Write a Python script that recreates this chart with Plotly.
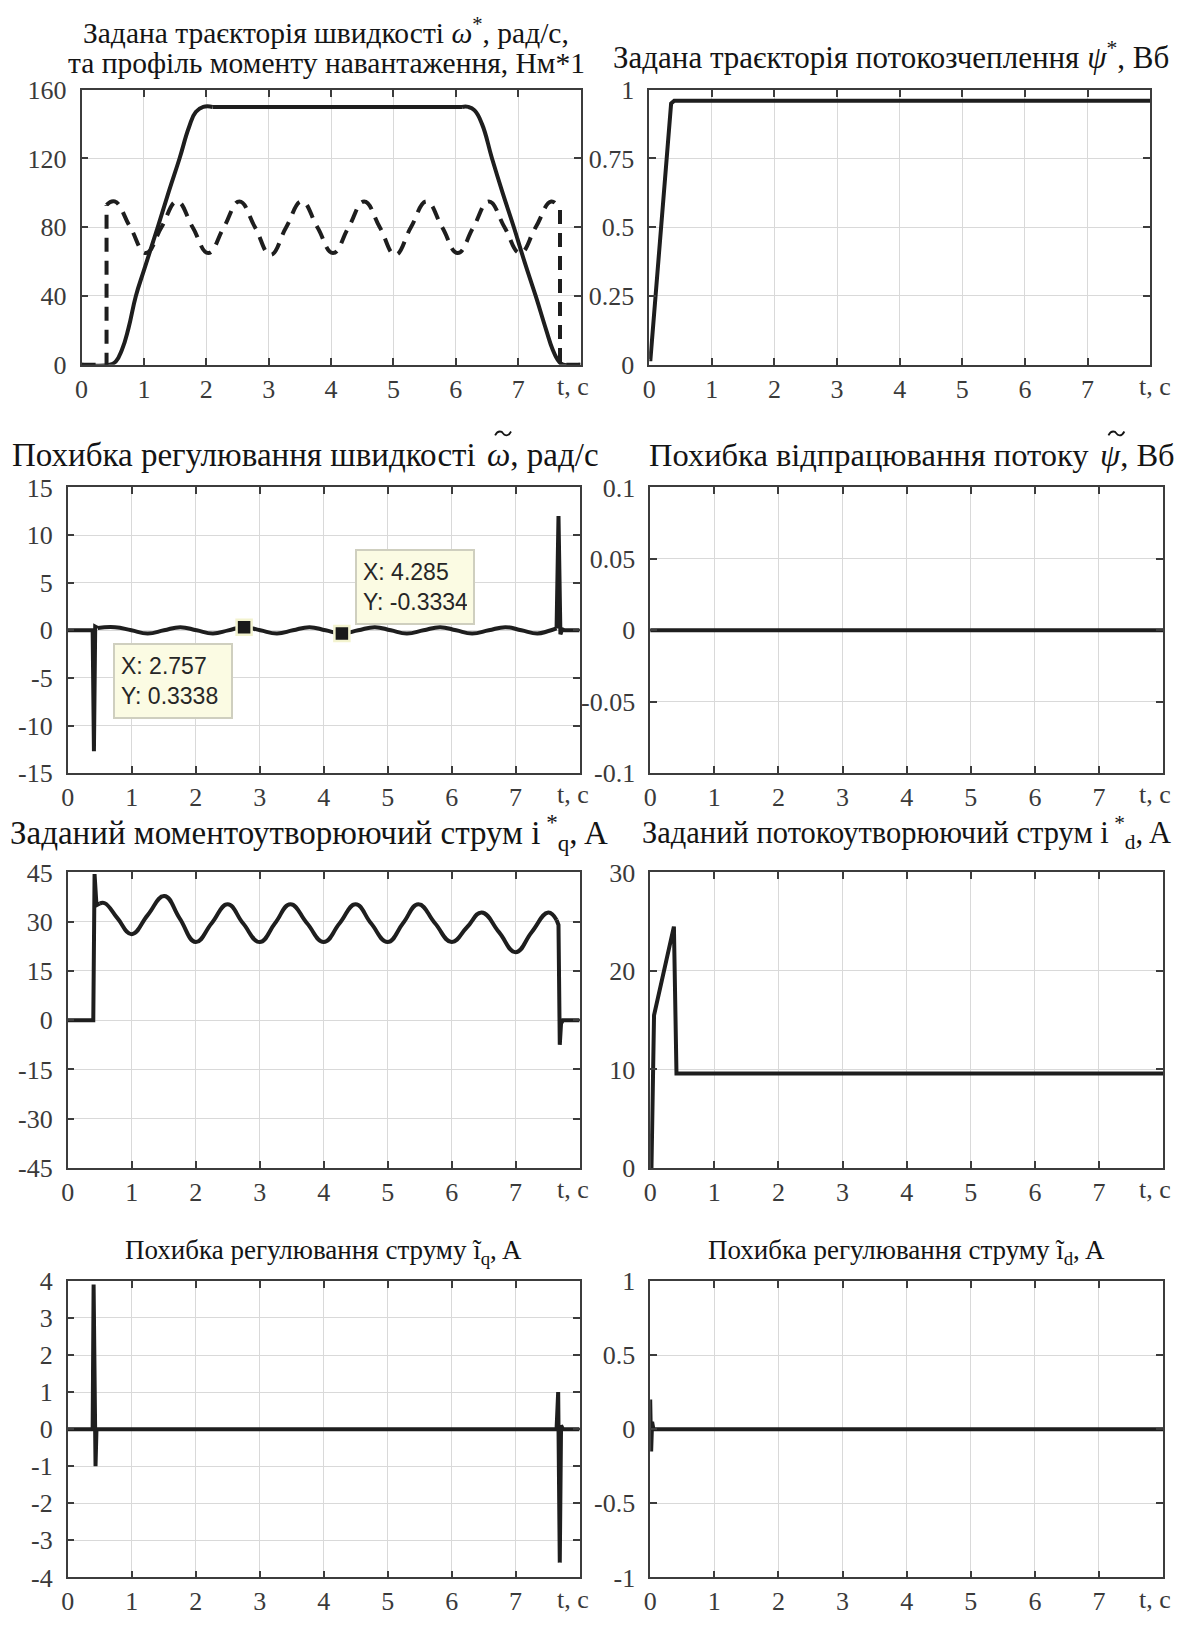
import plotly.graph_objects as go

# page is 1189x1625; the html body keeps an 8px margin, so the figure is drawn 16px smaller
PAGE_OFF = 8
W, H = 1189 - 2 * PAGE_OFF, 1625 - 2 * PAGE_OFF

# ---------------- data ----------------
# Panel 1: speed reference (solid) and load torque profile (dashed)
spd_acc_t = [0, 0.45, 0.55, 0.65, 0.75, 0.87, 1.0, 1.22, 1.4, 1.57, 1.72, 1.83, 1.95, 2.1]
spd_acc_v = [0, 0, 2, 9, 21, 40, 55, 80, 101, 120, 138, 147, 150, 150]
spd_flat_t = [2.1, 6.1]
spd_flat_v = [150, 150]
spd_dec_t = [6.1, 6.2, 6.3, 6.42, 6.58, 6.75, 6.93, 7.1, 7.28, 7.45, 7.55, 7.65, 7.72, 8.0]
spd_dec_v = [150, 150, 148, 140, 120, 100, 80, 60, 40, 20, 9, 2, 0, 0]
load_on_t = [0, 0.40, 0.40]
load_on_v = [0, 0, 93]
load_wave_t = [0.40, 0.53, 0.78, 1.03, 1.28, 1.53, 1.78, 2.03, 2.28, 2.53, 2.78, 3.03, 3.28,
               3.53, 3.78, 4.03, 4.28, 4.53, 4.78, 5.03, 5.28, 5.53, 5.78, 6.03, 6.28, 6.53,
               6.78, 7.03, 7.28, 7.53, 7.67]
load_wave_v = [93, 95, 80, 65, 80, 95, 80, 65, 80, 95, 80, 64, 80,
               95, 80, 65, 80, 95, 80, 64, 80, 95, 80, 65, 80, 95,
               80, 65, 80, 95, 90]
load_off_t = [7.67, 7.67, 8.0]
load_off_v = [90, 0, 0]

# Panel 2: flux linkage reference
flux_t = [0, 0.02, 0.35, 0.40, 8.0]
flux_v = [0.02, 0.02, 0.95, 0.96, 0.96]

# Panel 3: speed tracking error
werr_a_t = [0, 0.39, 0.41, 0.43, 0.47]
werr_a_v = [0, 0, -12.7, 0.4, 0.25]
werr_w_t = [0.47, 0.74, 0.995, 1.25, 1.505, 1.76, 2.015, 2.27, 2.51, 2.757, 3.01, 3.27,
            3.52, 3.78, 4.03, 4.285, 4.54, 4.80, 5.05, 5.30, 5.56, 5.82, 6.07, 6.32,
            6.58, 6.84, 7.09, 7.34, 7.5, 7.64]
werr_w_v = [0.25, 0.33, 0, -0.33, 0, 0.33, 0, -0.33, 0, 0.3338, 0, -0.33,
            0, 0.33, 0, -0.3334, 0, 0.33, 0, -0.33, 0, 0.33, 0, -0.33,
            0, 0.33, 0, -0.33, -0.1, 0.2]
werr_b_t = [7.64, 7.67, 7.70, 7.73, 7.77, 8.0]
werr_b_v = [0.2, 12.0, -0.4, 0.1, 0, 0]
tip_x = [2.757, 4.285]
tip_y = [0.3338, -0.3334]

# Panel 4: flux tracking error
ferr_t = [0, 8.0]
ferr_v = [0, 0]

# Panel 5: torque-producing current reference
iq_a_t = [0, 0.40, 0.42, 0.45, 0.50]
iq_a_v = [0, 0, 44.5, 35, 35.5]
iq_w_t = [0.50, 0.58, 0.78, 1.0, 1.25, 1.51, 1.75, 2.0, 2.25, 2.5, 2.74, 3.0, 3.24, 3.48,
          3.74, 4.0, 4.25, 4.5, 4.74, 5.0, 5.24, 5.48, 5.74, 6.0, 6.24, 6.47, 6.74, 7.0,
          7.25, 7.51, 7.64]
iq_w_v = [35.5, 35.6, 31, 26.2, 32, 37.8, 31, 23.8, 29.5, 35.3, 29.5, 23.8, 29.5, 35.3,
          29.5, 23.8, 29.5, 35.3, 29.5, 23.8, 29.5, 35.3, 29.5, 23.8, 28.3, 32.8, 26.8, 20.7,
          26.8, 32.8, 30.5]
iq_b_t = [7.64, 7.67, 7.69, 7.71, 7.74, 8.0]
iq_b_v = [30.5, 29, -7.5, -1, 0, 0]

# Panel 6: flux-producing current reference
id_t = [0, 0.02, 0.06, 0.37, 0.41, 8.0]
id_v = [0, 0, 15.5, 24.5, 9.6, 9.6]

# Panel 7: iq tracking error
iqerr_t = [0, 0.39, 0.405, 0.42, 0.435, 0.45, 7.64, 7.665, 7.69, 7.71, 7.74, 8.0]
iqerr_v = [0, 0, 3.9, 0.3, -1.0, 0, 0, 1.0, -3.6, 0.1, 0, 0]

# Panel 8: id tracking error
iderr_t = [0, 0.015, 0.03, 0.05, 8.0]
iderr_v = [0.2, -0.15, 0.05, 0, 0]

# axes / ticks
x_ticks = [0, 1, 2, 3, 4, 5, 6, 7]
x_tick_text = ["0", "1", "2", "3", "4", "5", "6", "7"]
x_unit = "t, c"
y_ticks = {
    1: [0, 40, 80, 120, 160],
    2: [0, 0.25, 0.5, 0.75, 1],
    3: [-15, -10, -5, 0, 5, 10, 15],
    4: [-0.1, -0.05, 0, 0.05, 0.1],
    5: [-45, -30, -15, 0, 15, 30, 45],
    6: [0, 10, 20, 30],
    7: [-4, -3, -2, -1, 0, 1, 2, 3, 4],
    8: [-1, -0.5, 0, 0.5, 1],
}
y_tick_text = {
    1: ["0", "40", "80", "120", "160"],
    2: ["0", "0.25", "0.5", "0.75", "1"],
    3: ["-15", "-10", "-5", "0", "5", "10", "15"],
    4: ["-0.1", "-0.05", "0", "0.05", "0.1"],
    5: ["-45", "-30", "-15", "0", "15", "30", "45"],
    6: ["0", "10", "20", "30"],
    7: ["-4", "-3", "-2", "-1", "0", "1", "2", "3", "4"],
    8: ["-1", "-0.5", "0", "0.5", "1"],
}
# centred titles: (text, page-x centre, page-y centre)
titles = {
    1: [("Задана траєкторія швидкості <i>ω</i><sup>*</sup>, рад/с,", 321, 17),
        ("та профіль моменту навантаження, Нм*1", 321, 50)],
    2: [("Задана траєкторія потокозчеплення <i>ψ</i><sup>*</sup>, Вб", 889, 42)],
    5: [("Заданий моментоутворюючий струм i<sup> *</sup><sub>q</sub>, A", 304, 833)],
    6: [("Заданий потокоутворюючий струм i<sup> *</sup><sub>d</sub>, A", 905, 833)],
    7: [("Похибка регулювання струму ĩ<sub>q</sub>, A", 318, 1261)],
    8: [("Похибка регулювання струму ĩ<sub>d</sub>, A", 905, 1261)],
}
title_size = {1: 29.5, 2: 31, 3: 33, 4: 32.5, 5: 33, 6: 30.5, 7: 27, 8: 27}
# titles with a tilde over the Greek letter: prefix, symbol part, split x, tilde x, y
tilde_titles = {
    3: ("Похибка регулювання швидкості", "<i>ω</i>, рад/с", 481, 499, 449),
    4: ("Похибка відпрацювання потоку", "<i>ψ</i>, Вб", 1097, 1116, 449),
}

# ---------------- layout geometry (page pixels) ----------------
boxes = {  # left, right, top, bottom
    1: (75, 577, 77, 357),
    2: (646, 1150, 77, 357),
    3: (61, 576, 482, 773),
    4: (647, 1163, 482, 773),
    5: (61, 576, 874, 1175),
    6: (647, 1163, 874, 1175),
    7: (61, 576, 1290, 1592),
    8: (647, 1163, 1290, 1592),
}
unit_x = {1: 569, 2: 1155, 3: 569, 4: 1155, 5: 569, 6: 1155, 7: 569, 8: 1155}

LINE = "#1e1e1e"
FRAME = "#3c3c3c"
GRID = "#d9d9d9"
TICKC = "#3a3a3a"
TITLEC = "#141414"
SERIF = "Liberation Serif"


def px(xp):
    return (xp - PAGE_OFF) / W


def py(yp):
    return 1 - (yp - PAGE_OFF) / H


fig = go.Figure()


def add(i, t, v, shape="linear", dash="solid"):
    ax = "" if i == 1 else str(i)
    line = dict(color=LINE, width=4, shape=shape, dash=dash)
    if shape == "spline":
        line["smoothing"] = 1.3
    fig.add_trace(go.Scatter(x=t, y=v, mode="lines", xaxis="x" + ax, yaxis="y" + ax,
                             line=line, showlegend=False, hoverinfo="skip"))


DASH = "14px,9px"
add(1, load_on_t, load_on_v, dash=DASH)
add(1, load_wave_t, load_wave_v, shape="spline", dash=DASH)
add(1, load_off_t, load_off_v, dash=DASH)
add(1, spd_acc_t, spd_acc_v, shape="spline")
add(1, spd_flat_t, spd_flat_v)
add(1, spd_dec_t, spd_dec_v, shape="spline")
add(2, flux_t, flux_v)
add(3, werr_a_t, werr_a_v)
add(3, werr_w_t, werr_w_v, shape="spline")
add(3, werr_b_t, werr_b_v)
add(4, ferr_t, ferr_v)
add(5, iq_a_t, iq_a_v)
add(5, iq_w_t, iq_w_v, shape="spline")
add(5, iq_b_t, iq_b_v)
add(6, id_t, id_v)
add(7, iqerr_t, iqerr_v)
add(8, iderr_t, iderr_v)

# data-tip markers
fig.add_trace(go.Scatter(
    x=tip_x, y=tip_y, mode="markers", xaxis="x3", yaxis="y3",
    marker=dict(symbol="square", size=15, color="#1a1a1a",
                line=dict(color="#f3f3cf", width=2.5)),
    showlegend=False, hoverinfo="skip"))

layout = dict(
    width=W, height=H, margin=dict(l=0, r=0, t=0, b=0),
    paper_bgcolor="white", plot_bgcolor="white", showlegend=False,
    font=dict(family=SERIF, size=26, color=TICKC),
)
annotations = []
shapes = []
for i in range(1, 9):
    l, r, t, b = boxes[i]
    ax = "" if i == 1 else str(i)
    common = dict(showgrid=True, gridcolor=GRID, gridwidth=1, zeroline=False,
                  showline=True, linecolor=FRAME, linewidth=1.6, mirror="ticks",
                  ticks="inside", ticklen=7, tickwidth=1.5, tickcolor=FRAME,
                  tickfont=dict(family=SERIF, size=26, color=TICKC))
    layout["xaxis" + ax] = dict(domain=[px(l), px(r)], range=[0, 8], anchor="y" + ax,
                                tickmode="array", tickvals=x_ticks, ticktext=x_tick_text,
                                ticklabelstandoff=0, **common)
    yt = y_ticks[i]
    layout["yaxis" + ax] = dict(domain=[py(b), py(t)], range=[yt[0], yt[-1]],
                                anchor="x" + ax, tickmode="array", tickvals=yt,
                                ticktext=y_tick_text[i], ticklabelstandoff=8, **common)
    # unit label at the end of the time axis
    annotations.append(dict(text=x_unit, xref="paper", yref="paper",
                            x=px(unit_x[i]), y=py(b + 22), xanchor="center",
                            yanchor="middle", showarrow=False,
                            font=dict(family=SERIF, size=26, color=TICKC)))
    for line_txt, tx, ty in titles.get(i, []):
        annotations.append(dict(text=line_txt, xref="paper", yref="paper",
                                x=px(tx), y=py(ty), xanchor="center",
                                yanchor="middle", showarrow=False,
                                font=dict(family=SERIF, size=title_size[i], color=TITLEC)))
    if i in tilde_titles:
        pre, sym, xs, xt, ty = tilde_titles[i]
        f = dict(family=SERIF, size=title_size[i], color=TITLEC)
        annotations.append(dict(text=pre, xref="paper", yref="paper", x=px(xs - 7),
                                y=py(ty), xanchor="right", yanchor="middle",
                                showarrow=False, font=f))
        annotations.append(dict(text=sym, xref="paper", yref="paper", x=px(xs),
                                y=py(ty), xanchor="left", yanchor="middle",
                                showarrow=False, font=f))
        # tilde accent drawn as a small curve above the Greek letter
        yc = ty - 22
        pts = [(xt - 8, yc + 2), (xt - 5, yc - 4), (xt - 1, yc - 2), (xt, yc),
               (xt + 1, yc + 2), (xt + 5, yc + 4), (xt + 8, yc - 2)]
        p = ("M {:.5f},{:.5f} C {:.5f},{:.5f} {:.5f},{:.5f} {:.5f},{:.5f} "
             "C {:.5f},{:.5f} {:.5f},{:.5f} {:.5f},{:.5f}").format(
            *[c for q in pts for c in (px(q[0]), py(q[1]))])
        shapes.append(dict(type="path", xref="paper", yref="paper", path=p,
                           line=dict(color=TITLEC, width=1.8)))

# data-tip boxes (page pixels of the box corner)
tip_boxes = [(107, 640, "top"), (350, 622, "bottom")]
for (bx, by, anc), tx, ty in zip(tip_boxes, tip_x, tip_y):
    annotations.append(dict(
        text=f"X: {tx:g}<br>Y: {ty:g}", xref="paper", yref="paper",
        x=px(bx), y=py(by), xanchor="left", yanchor=anc, align="left",
        showarrow=False, bgcolor="#fbfbe3", bordercolor="#cfcfbf", borderwidth=2,
        borderpad=6, width=104, height=60,
        font=dict(family="Liberation Sans", size=23, color="#262626")))

layout["annotations"] = annotations
layout["shapes"] = shapes
fig.update_layout(**layout)
fig.write_html("out.html")
